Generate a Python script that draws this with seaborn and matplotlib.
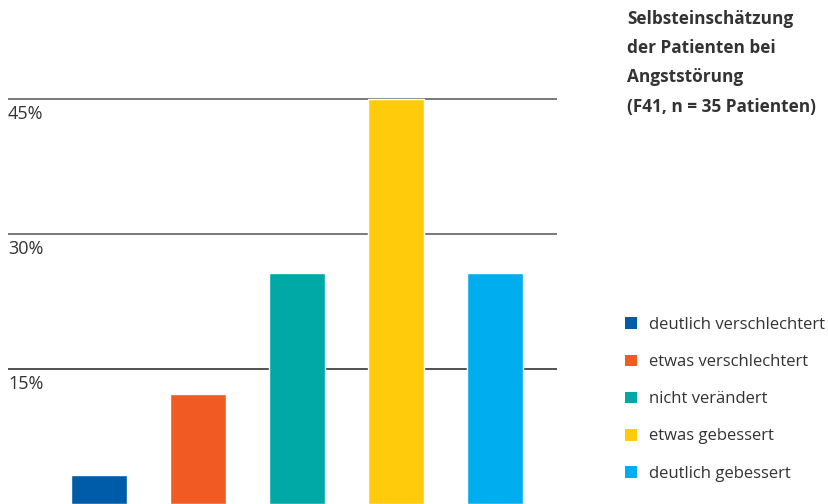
import matplotlib
matplotlib.use("Agg")
import matplotlib.pyplot as plt
import seaborn as sns
import pandas as pd
from matplotlib.patches import Patch
from matplotlib.transforms import blended_transform_factory

categories = ["deutlich verschlechtert", "etwas verschlechtert", "nicht verändert",
              "etwas gebessert", "deutlich gebessert"]
values = [3.2, 12.2, 25.7, 45.0, 25.7]
colors = ["#005CA9", "#F15A22", "#00A9A5", "#FFCB0A", "#00AEEF"]
tick_values = [15, 30, 45]
tick_labels = ["15%", "30%", "45%"]
title = "Selbsteinschätzung\nder Patienten bei\nAngststörung\n(F41, n = 35 Patienten)"

sns.set_style("white")
plt.rcParams['font.family'] = ['Open Sans', 'DejaVu Sans']

df = pd.DataFrame({"cat": categories, "val": values})

fig = plt.figure(figsize=(8.29, 5.04), dpi=100)
ax = fig.add_axes([8 / 829, 0, (557 - 8) / 829, 1])

sns.barplot(data=df, x="cat", y="val", hue="cat", palette=colors,
            width=0.566, legend=False, ax=ax, saturation=1)

ax.set_xlim(-0.92, 4.63)
ax.set_ylim(0, 504 / 8.99)
for s in ax.spines.values():
    s.set_visible(False)
ax.set_xticks([])
ax.set_yticks([])
ax.set_xlabel("")
ax.set_ylabel("")

trans = blended_transform_factory(ax.transAxes, ax.transData)
line_colors = ["#222222", "#555555", "#555555"]
for v, lab, lc in zip(tick_values, tick_labels, line_colors):
    ax.axhline(v, color=lc, lw=1.1, zorder=0)
    ax.text(0.0, v - 0.6, lab, transform=trans, ha="left", va="top",
            fontsize=13, color="#333333")

fig.text(627 / 829, 1 - 10 / 504, title, ha="left", va="top", fontsize=12.4,
         fontweight="bold", color="#333333", linespacing=1.8)

handles = [Patch(facecolor=c, edgecolor="none") for c in colors]
leg = fig.legend(handles, categories, loc="upper left",
                 bbox_to_anchor=(625 / 829, 1 - 317 / 504),
                 frameon=False, fontsize=12, handlelength=0.7, handleheight=0.7,
                 handletextpad=0.75, labelspacing=1.27, borderpad=0, borderaxespad=0)
for t in leg.get_texts():
    t.set_color("#333333")

fig.savefig("out.png", dpi=100)
